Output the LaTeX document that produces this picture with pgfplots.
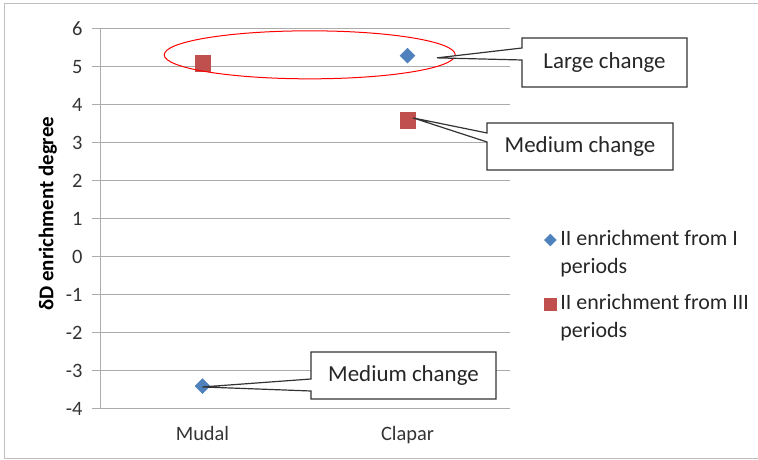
\documentclass[border=0pt]{standalone}
\usepackage{fontspec}
\setmainfont{Carlito}
\usepackage{pgfplots}
\pgfplotsset{compat=1.18}
\definecolor{xlblue}{HTML}{4F81BD}
\definecolor{xlred}{HTML}{C0504D}
\definecolor{gridc}{HTML}{ABABAB}
\definecolor{framec}{HTML}{BFBFBF}
\begin{document}
\begin{tikzpicture}[x=1bp,y=1bp]
\useasboundingbox (0,0) rectangle (758,460);
\draw[framec, line width=1bp] (4,1.5) rectangle (770,456);
\begin{axis}[
  at={(100bp,51bp)}, anchor=south west,
  scale only axis, width=410bp, height=380bp,
  xmin=-0.5, xmax=1.5, ymin=-4, ymax=6,
  ytick={-4,-3,...,6},
  xtick={0,1}, xticklabels={Mudal,Clapar},
  extra x ticks={0.5,1.5}, extra x tick labels={},
  extra x tick style={grid=none, tick style={draw=gridc}},
  axis lines=left, axis line style={-, gridc, line width=1bp},
  ymajorgrids, grid style={gridc, line width=1bp},
  major tick length=8bp, tick align=outside,
  major tick style={gridc, line width=1bp},
  x tick style={draw=none},
  tick label style={font=\fontsize{20.5}{24}\selectfont, text=black!80},
  /pgf/number format/assume math mode=true,
  yticklabel style={xshift=-6bp},
  xticklabel style={yshift=-6bp},
  ylabel={\bfseries δD enrichment degree},
  ylabel style={font=\fontsize{21}{24}\selectfont, at={(axis description cs:-0.127,0.514)}, anchor=center},
  clip=false,
  legend style={at={(axis description cs:1.084,0.471)}, anchor=north west, draw=none, fill=none,
    inner sep=0pt, outer sep=0pt, row sep=8bp, column sep=4bp,
    nodes={font=\fontsize{22}{26}\selectfont, text=black!85, inner sep=0pt, text height=15bp, text depth=5bp, align=left}},
  legend cell align=left,
]
\addplot[only marks, mark=square*, mark size=5.3bp, mark options={rotate=45, fill=xlblue, draw=xlblue},
  legend image code/.code={\draw[mark=square*, mark size=4.2bp, mark options={rotate=45, fill=xlblue, draw=xlblue}] plot coordinates {(6bp,0bp)};}]
  coordinates {(0,-3.4) (1,5.3)};
\addlegendentry{II enrichment from I}
\addlegendimage{empty legend}
\addlegendentry[text depth=13bp]{periods}
\addplot[only marks, mark=square*, mark size=7.8bp, mark options={fill=xlred, draw=xlred},
  legend image code/.code={\draw[mark=square*, mark size=6bp, mark options={fill=xlred, draw=xlred}] plot coordinates {(6bp,0bp)};}]
  coordinates {(0,5.1) (1,3.6)};
\addlegendentry{II enrichment from III}
\addlegendimage{empty legend}
\addlegendentry{periods}
\coordinate (tipL) at (axis cs:1.144,5.24);
\coordinate (tipM) at (axis cs:1.027,3.66);
\coordinate (tipB) at (axis cs:0.0,-3.42);
\coordinate (ellc) at (axis cs:0.523,5.32);
\end{axis}
\draw[red, line width=1bp] (ellc) ellipse [x radius=145.5, y radius=24];
\tikzset{callout/.style={draw=black!80, fill=white, line width=1.2bp, line join=miter}}
\draw[callout] (522,422) -- (687,422) -- (687,373) -- (522,373) -- (522,400) -- (tipL) -- (522,412) -- cycle;
\node[font=\fontsize{23}{27}\selectfont, text=black!85] at (604.5,397.5) {Large change};
\draw[callout] (487,337) -- (673,337) -- (673,290) -- (487,290) -- (487,318) -- (tipM) -- (487,327) -- cycle;
\node[font=\fontsize{23}{27}\selectfont, text=black!85] at (580,313.5) {Medium change};
\draw[callout] (311,108) -- (496,108) -- (496,61) -- (311,61) -- (311,69) -- (tipB) -- (311,81) -- cycle;
\node[font=\fontsize{23}{27}\selectfont, text=black!85] at (403.5,84.5) {Medium change};
\end{tikzpicture}
\end{document}
